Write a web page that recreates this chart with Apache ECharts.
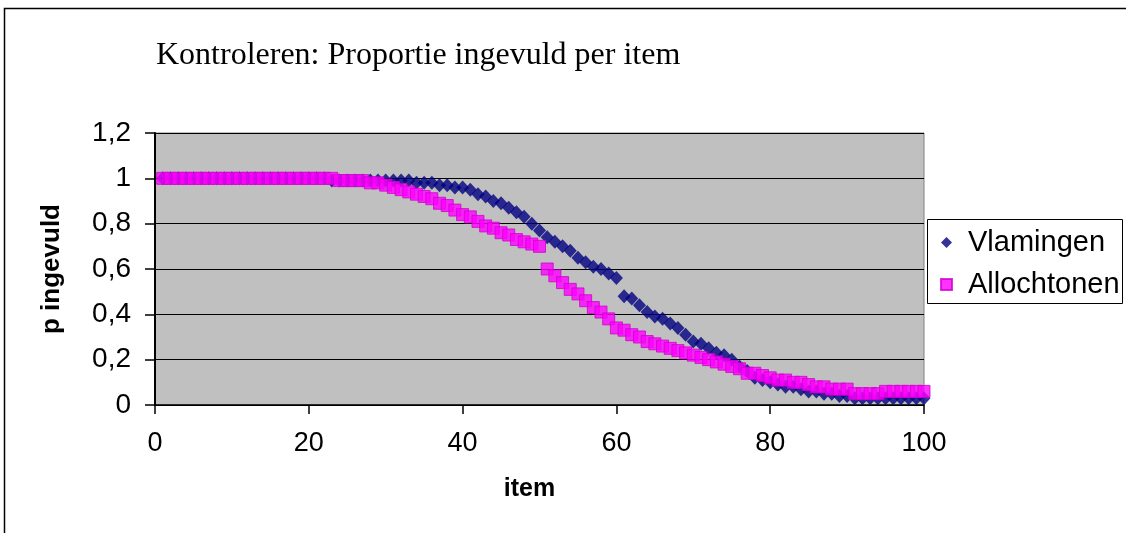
<!DOCTYPE html>
<html>
<head>
<meta charset="utf-8">
<script src="https://cdn.jsdelivr.net/npm/echarts@6/dist/echarts.min.js"></script>
<style>html,body{margin:0;padding:0;background:#fff;overflow:hidden}#c{width:1126px;height:533px}</style>
</head>
<body>
<div id="c"></div>
<script>
const titleText = 'Kontroleren: Proportie ingevuld per item';
const seriesNames = ['Vlamingen', 'Allochtonen'];
const xTickLabels = ['0', '20', '40', '60', '80', '100'];
const yTickLabels = ['0', '0,2', '0,4', '0,6', '0,8', '1', '1,2'];
const items = Array.from({length: 100}, (_, i) => i + 1);
const vlamingen = [
  1.00,1.00,1.00,1.00,1.00,1.00,1.00,1.00,1.00,1.00,
  1.00,1.00,1.00,1.00,1.00,1.00,1.00,1.00,1.00,1.00,
  1.00,1.00,0.99,0.99,0.99,0.99,0.99,0.99,0.99,0.99,
  0.99,0.99,0.99,0.98,0.98,0.98,0.97,0.97,0.96,0.96,
  0.95,0.93,0.92,0.90,0.89,0.87,0.85,0.83,0.80,0.77,
  0.74,0.72,0.70,0.68,0.65,0.63,0.61,0.60,0.58,0.56,
  0.48,0.47,0.44,0.41,0.39,0.38,0.36,0.34,0.31,0.28,
  0.27,0.25,0.23,0.22,0.20,0.17,0.15,0.12,0.11,0.10,
  0.09,0.08,0.08,0.07,0.06,0.06,0.05,0.05,0.04,0.04,
  0.03,0.03,0.03,0.03,0.03,0.03,0.03,0.03,0.03,0.03
];
const allochtonen = [
  1.00,1.00,1.00,1.00,1.00,1.00,1.00,1.00,1.00,1.00,
  1.00,1.00,1.00,1.00,1.00,1.00,1.00,1.00,1.00,1.00,
  1.00,1.00,1.00,0.99,0.99,0.99,0.99,0.98,0.98,0.97,
  0.96,0.95,0.94,0.93,0.92,0.91,0.89,0.88,0.86,0.84,
  0.83,0.81,0.79,0.78,0.76,0.75,0.73,0.72,0.71,0.70,
  0.60,0.57,0.54,0.51,0.49,0.46,0.43,0.41,0.38,0.34,
  0.33,0.31,0.30,0.28,0.27,0.26,0.25,0.24,0.23,0.22,
  0.21,0.20,0.19,0.18,0.17,0.16,0.14,0.14,0.13,0.12,
  0.11,0.11,0.10,0.10,0.09,0.08,0.08,0.07,0.07,0.07,
  0.05,0.05,0.05,0.05,0.06,0.06,0.06,0.06,0.06,0.06
];

const chart = echarts.init(document.getElementById('c'), null, {renderer: 'canvas'});
chart.setOption({
  animation: false,
  backgroundColor: '#ffffff',
  title: {
    text: titleText, left: 156, top: 40, padding: 0,
    textStyle: {fontFamily: 'Liberation Serif', fontSize: 32, fontWeight: 'normal', color: '#000'}
  },
  legend: {
    orient: 'vertical', left: 940, top: 228, padding: 0,
    itemWidth: 11, itemHeight: 11, itemGap: 13,
    textStyle: {fontFamily: 'Liberation Sans', fontSize: 29, color: '#000', lineHeight: 29, padding: [0, 0, 0, 11]},
    data: [{name: seriesNames[0], icon: 'diamond'}, {name: seriesNames[1], icon: 'rect'}]
  },
  graphic: [
    {type: 'polyline', shape: {points: [[4.5, 540], [4.5, 8.5], [1130, 8.5]]}, style: {fill: null, stroke: '#000', lineWidth: 1.5}, silent: true, z: 0},
    {type: 'rect', shape: {x: 927.5, y: 219.5, width: 195, height: 84}, style: {fill: '#fff', stroke: '#000', lineWidth: 1}, silent: true, z: 0}
  ],
  grid: {
    left: 155, right: 202, top: 133, bottom: 128,
    show: true, backgroundColor: '#c0c0c0', borderColor: '#808080', borderWidth: 1
  },
  xAxis: {
    type: 'value', min: 0, max: 100, interval: 20,
    name: 'item', nameLocation: 'middle', nameGap: 72,
    nameTextStyle: {fontFamily: 'Liberation Sans', fontSize: 25, fontWeight: 'bold', color: '#000', padding: [0, 20, 0, 0]},
    axisLine: {show: true, lineStyle: {color: '#000', width: 1.5}},
    axisTick: {show: true, length: 9, lineStyle: {color: '#000', width: 1.5}},
    axisLabel: {margin: 25, fontFamily: 'Liberation Sans', fontSize: 27, color: '#000',
      formatter: v => xTickLabels[Math.round(v / 20)]},
    splitLine: {show: false}
  },
  yAxis: {
    type: 'value', min: 0, max: 1.2, interval: 0.2,
    name: 'p ingevuld', nameLocation: 'middle', nameGap: 90,
    nameTextStyle: {fontFamily: 'Liberation Sans', fontSize: 26, fontWeight: 'bold', color: '#000'},
    axisLine: {show: true, lineStyle: {color: '#000', width: 2}},
    axisTick: {show: true, length: 10, lineStyle: {color: '#000', width: 1.5}},
    axisLabel: {margin: 24, fontFamily: 'Liberation Sans', fontSize: 28, color: '#000',
      formatter: v => yTickLabels[Math.round(v / 0.2)]},
    splitLine: {show: true, lineStyle: {color: '#000', width: 1.2}}
  },
  series: [
    {
      name: seriesNames[0], type: 'scatter', symbol: 'diamond', symbolSize: [13, 14],
      itemStyle: {color: '#000080'},
      data: items.map((x, i) => [x, vlamingen[i]])
    },
    {
      name: seriesNames[1], type: 'scatter', symbol: 'rect', symbolSize: 12,
      itemStyle: {color: '#ff00ff', borderColor: '#d000d0', borderWidth: 1},
      data: items.map((x, i) => [x, allochtonen[i]])
    }
  ]
});
</script>
</body>
</html>
